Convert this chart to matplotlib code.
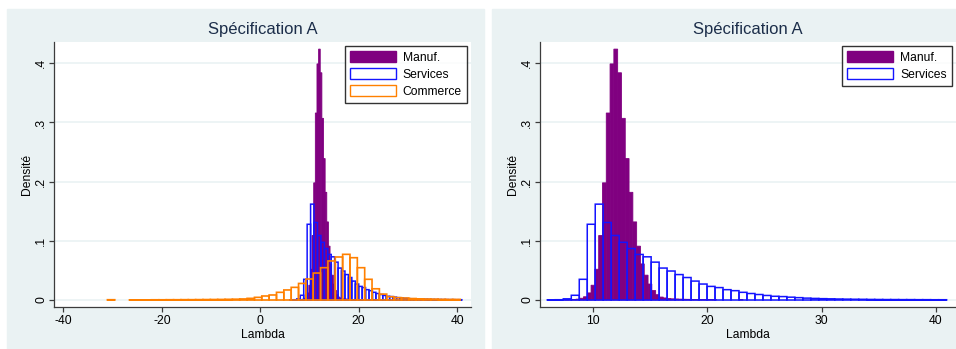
import matplotlib
matplotlib.use('Agg')
import matplotlib.pyplot as plt
from matplotlib.patches import Patch, Rectangle
import numpy as np

plt.rcParams['font.family'] = ['Liberation Sans', 'DejaVu Sans']

# ---------------- data ----------------
title = "Spécification A"
xlabel = "Lambda"
ylabel = "Densité"
legend_labels = ["Manuf.", "Services", "Commerce"]

manuf_start, manuf_width = 7.53, 0.332
manuf_density = [0.0005, 0.0007, 0.001, 0.0015, 0.003, 0.0055, 0.012, 0.025, 0.052, 0.109,
                 0.198, 0.316, 0.399, 0.424, 0.384, 0.307, 0.239, 0.182, 0.132, 0.091,
                 0.061, 0.042, 0.027, 0.016, 0.009, 0.005, 0.0035, 0.0025, 0.002, 0.0018,
                 0.0015, 0.0013, 0.0012, 0.001, 0.001, 0.0009, 0.0008, 0.0008, 0.0007, 0.0006,
                 0, 0, 0, 0, 0, 0, 0.0008]

services_start, services_width = 6.03, 0.698
services_density = [0.0003, 0.0005, 0.002, 0.008, 0.035, 0.128, 0.162, 0.131, 0.109, 0.0975,
                    0.087, 0.077, 0.073, 0.064, 0.054, 0.049, 0.043, 0.038, 0.032, 0.027,
                    0.023, 0.021, 0.0175, 0.0158, 0.013, 0.011, 0.0093, 0.0077, 0.0063, 0.0058,
                    0.0048, 0.004, 0.0032, 0.0027, 0.0023, 0.002, 0.0017, 0.0015, 0.0013, 0.0012,
                    0.001, 0.0009, 0.0008, 0.0008, 0.0007, 0.0007, 0.0006, 0.0006, 0.0005, 0.0005]

commerce_start, commerce_width = -31.05, 1.493
commerce_density = [0.0005, 0, 0,
                    0.0003, 0.0003, 0.0003, 0.0004, 0.0004, 0.0005, 0.0005, 0.0006,
                    0.0006, 0.0007, 0.0008, 0.0009, 0.001, 0.0012, 0.0014, 0.0018,
                    0.0028, 0.0045, 0.0068, 0.0085, 0.013, 0.017, 0.0214, 0.028, 0.0355,
                    0.0456, 0.0546, 0.066, 0.0727, 0.0772, 0.0715, 0.0546, 0.035, 0.019,
                    0.010, 0.0056, 0.004, 0.0034, 0.0025, 0.002, 0.0017, 0.0015, 0.0012,
                    0.001, 0.001]

left_xticks = [-40, -20, 0, 20, 40]
right_xticks = [10, 20, 30, 40]
yticks = [0, 0.1, 0.2, 0.3, 0.4]
ytick_labels = ["0", ".1", ".2", ".3", ".4"]

# ---------------- style ----------------
W, H = 956, 349
BG = '#eaf2f3'
PURPLE = '#800080'
BLUE = '#1414ff'
ORANGE = '#ff8000'
AXC = '#3c3c3c'
TITLEC = '#1c2e4a'
FS = 8.7


def edges(start, width, n):
    return start + width * np.arange(n)


def draw_hist(ax, start, width, dens, **kw):
    d = np.asarray(dens, dtype=float)
    x = edges(start, width, len(d))
    m = d > 0
    bars = ax.bar(x[m], d[m], width=width, align='edge', **kw)
    for b in bars:
        b.set_snap(False)


fig = plt.figure(figsize=(W / 100, H / 100), dpi=100)
fig.patch.set_facecolor('white')
fig.patches.append(Rectangle((7 / W, 0), (484 - 7) / W, (349 - 9) / H,
                             transform=fig.transFigure, color=BG, zorder=-5))
fig.patches.append(Rectangle((492 / W, 0), (956 - 492) / W, (349 - 9) / H,
                             transform=fig.transFigure, color=BG, zorder=-5))


def make_axes(x0, x1, xlim, xticks, with_commerce):
    ax = fig.add_axes([x0 / W, 1 - 307 / H, (x1 - x0) / W, (307 - 42) / H])
    ax.set_facecolor('white')
    ax.set_xlim(*xlim)
    ax.set_ylim(-0.0118, 0.436)
    for s in ['top', 'right']:
        ax.spines[s].set_visible(False)
    for s in ['left', 'bottom']:
        ax.spines[s].set_color(AXC)
        ax.spines[s].set_linewidth(0.9)
    ax.set_xticks(xticks)
    ax.set_xticklabels([str(t) for t in xticks])
    ax.set_yticks(yticks)
    ax.set_yticklabels(ytick_labels, rotation=90, va='center')
    ax.tick_params(axis='both', direction='out', length=3.6, width=0.9, color=AXC,
                   labelsize=FS, labelcolor='black')
    ax.tick_params(axis='x', pad=2)
    ax.tick_params(axis='y', pad=1.3)
    ax.yaxis.grid(True, color=BG, linewidth=1.2)
    ax.set_axisbelow(True)

    draw_hist(ax, manuf_start, manuf_width, manuf_density,
              color=PURPLE, edgecolor=PURPLE, linewidth=0.6, zorder=2)
    draw_hist(ax, services_start, services_width, services_density,
              facecolor='none', edgecolor=BLUE, linewidth=1.1, zorder=3)
    if with_commerce:
        draw_hist(ax, commerce_start, commerce_width, commerce_density,
                  facecolor='none', edgecolor=ORANGE, linewidth=1.2, zorder=4)

    ax.set_title(title, fontsize=12, color=TITLEC, pad=5.8)
    ax.set_xlabel(xlabel, fontsize=FS, labelpad=1.5)
    ax.set_ylabel(ylabel, fontsize=FS, labelpad=1.6)

    handles = [Patch(facecolor=PURPLE, edgecolor=PURPLE),
               Patch(facecolor='white', edgecolor=BLUE, linewidth=1.0)]
    labels = legend_labels[:2]
    if with_commerce:
        handles.append(Patch(facecolor='white', edgecolor=ORANGE, linewidth=1.0))
        labels = legend_labels
    leg = ax.legend(handles, labels, loc='upper right', bbox_to_anchor=(0.990, 0.985),
                    frameon=True, fancybox=False, edgecolor='black', fontsize=8.7,
                    handlelength=3.8, handleheight=1.07, handletextpad=0.6,
                    labelspacing=0.36, borderpad=0.4, borderaxespad=0)
    leg.get_frame().set_linewidth(1.0)
    return ax


make_axes(54, 471, (-41.9, 42.8), left_xticks, True)
make_axes(540, 956, (5.39, 41.75), right_xticks, False)

fig.savefig('out.png', dpi=100, facecolor='white')
